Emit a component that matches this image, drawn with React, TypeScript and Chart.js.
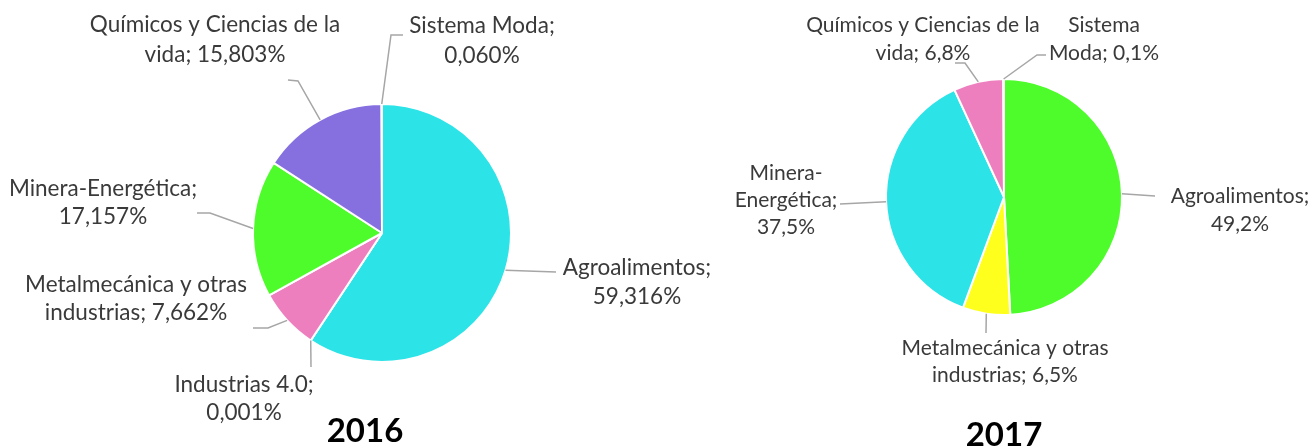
import React, { useEffect, useRef } from "react";
import { Chart, registerables } from "chart.js";

Chart.register(...registerables);

const W = 1314;
const H = 447;

// ---------- data: 2016 ----------
const categories2016 = [
  "Agroalimentos",
  "Industrias 4.0",
  "Metalmecánica y otras industrias",
  "Minera-Energética",
  "Químicos y Ciencias de la vida",
  "Sistema Moda",
];
const values2016 = [59.316, 0.001, 7.662, 17.157, 15.803, 0.06];
const decimals2016 = 3;
const colors2016 = ["#2ce3e8", "#f5d33a", "#ee7fbf", "#4dfc2a", "#8670e0", "#f0a35e"];

// ---------- data: 2017 ----------
const categories2017 = [
  "Agroalimentos",
  "Metalmecánica y otras industrias",
  "Minera-Energética",
  "Químicos y Ciencias de la vida",
  "Sistema Moda",
];
const values2017 = [49.2, 6.5, 37.5, 6.8, 0.1];
const decimals2017 = 1;
const colors2017 = ["#4dfc2a", "#ffff1e", "#2ce3e8", "#ee7fbf", "#8670e0"];

// ---------- label placement (words per line, text centre, baselines, leader path) ----------
type LabelLayout = { lines: number[]; cx: number; baselines: number[]; path: number[][] };

const labelLayout2016: LabelLayout[] = [
  { lines: [1, 1], cx: 637, baselines: [275, 304], path: [[556, 272]] },
  { lines: [2, 1], cx: 244, baselines: [392, 420], path: [[311, 367]] },
  { lines: [3, 2], cx: 136, baselines: [292, 320], path: [[268, 328], [253, 328]] },
  { lines: [2, 1], cx: 103, baselines: [196, 224], path: [[210, 213], [197, 213]] },
  { lines: [5, 2], cx: 215, baselines: [32, 62], path: [[298, 81], [288, 80]] },
  { lines: [2, 1], cx: 482, baselines: [33, 63], path: [[391, 35], [403, 35]] },
];

const labelLayout2017: LabelLayout[] = [
  { lines: [1, 1], cx: 1240, baselines: [203, 231], path: [[1155, 196]] },
  { lines: [3, 2], cx: 1005, baselines: [355, 382], path: [[986, 333]] },
  { lines: [1, 1, 1], cx: 786, baselines: [180, 207, 234], path: [[840, 204]] },
  { lines: [5, 2], cx: 923, baselines: [32, 60], path: [[965, 63], [955, 63]] },
  { lines: [1, 2], cx: 1104, baselines: [32, 60], path: [[1037, 55], [1046, 55]] },
];

type PieSpec = {
  title: string;
  categories: string[];
  values: number[];
  decimals: number;
  colors: string[];
  layout: LabelLayout[];
  cx: number;
  cy: number;
  radius: number;
  fontSize: number;
  titleX: number;
  titleY: number;
};

const specs: PieSpec[] = [
  {
    title: "2016",
    categories: categories2016,
    values: values2016,
    decimals: decimals2016,
    colors: colors2016,
    layout: labelLayout2016,
    cx: 382,
    cy: 233,
    radius: 129,
    fontSize: 22.5,
    titleX: 365,
    titleY: 442,
  },
  {
    title: "2017",
    categories: categories2017,
    values: values2017,
    decimals: decimals2017,
    colors: colors2017,
    layout: labelLayout2017,
    cx: 1004,
    cy: 197,
    radius: 118,
    fontSize: 21,
    titleX: 1004,
    titleY: 446,
  },
];

const FONT_FAMILY = "Lato, 'Open Sans', sans-serif";

function formatValue(v: number, d: number) {
  return v.toFixed(d).replace(".", ",") + "%";
}

function wrapLines(text: string, counts: number[]) {
  const tokens = text.match(/[^\s-]+-?/g) || [];
  const out: string[] = [];
  let k = 0;
  for (const c of counts) {
    let s = "";
    for (let j = 0; j < c && k < tokens.length; j++, k++) {
      const t = tokens[k];
      s += s === "" || s.endsWith("-") ? t : " " + t;
    }
    out.push(s);
  }
  return out;
}

function makeLabelPlugin(spec: PieSpec) {
  return {
    id: "outsideLabels" + spec.title,
    afterDatasetsDraw(chart: any) {
      const ctx: CanvasRenderingContext2D = chart.ctx;
      const meta = chart.getDatasetMeta(0);
      ctx.save();
      meta.data.forEach((arc: any, i: number) => {
        const L = spec.layout[i];
        if (!L) return;
        const p = arc.getProps(["x", "y", "startAngle", "endAngle", "outerRadius"], true);
        const mid = (p.startAngle + p.endAngle) / 2;
        const sx = p.x + Math.cos(mid) * p.outerRadius;
        const sy = p.y + Math.sin(mid) * p.outerRadius;
        ctx.beginPath();
        ctx.moveTo(sx, sy);
        L.path.forEach(([px, py]) => ctx.lineTo(px, py));
        ctx.strokeStyle = "#a6a6a6";
        ctx.lineWidth = 1.5;
        ctx.stroke();

        const text = `${spec.categories[i]}; ${formatValue(spec.values[i], spec.decimals)}`;
        const lines = wrapLines(text, L.lines);
        ctx.font = `${spec.fontSize}px ${FONT_FAMILY}`;
        ctx.fillStyle = "#3a3a3a";
        ctx.textAlign = "center";
        ctx.textBaseline = "alphabetic";
        lines.forEach((ln, j) => ctx.fillText(ln, L.cx, L.baselines[j]));
      });
      ctx.font = `bold 33px ${FONT_FAMILY}`;
      ctx.fillStyle = "#000000";
      ctx.textAlign = "center";
      ctx.textBaseline = "alphabetic";
      ctx.fillText(spec.title, spec.titleX, spec.titleY);
      ctx.restore();
    },
  };
}

function PieCanvas({ spec }: { spec: PieSpec }) {
  const ref = useRef<HTMLCanvasElement>(null);
  useEffect(() => {
    if (!ref.current) return;
    const hw = Math.min(spec.cx, W - spec.cx) - 1;
    const hh = Math.min(spec.cy, H - spec.cy) - 1;
    const chart = new Chart(ref.current, {
      type: "pie",
      data: {
        labels: spec.categories,
        datasets: [
          {
            data: spec.values,
            backgroundColor: spec.colors,
            borderColor: "#ffffff",
            borderWidth: 2,
            radius: spec.radius,
          } as any,
        ],
      },
      options: {
        responsive: false,
        animation: false,
        events: [],
        layout: {
          padding: {
            left: spec.cx - hw,
            right: W - spec.cx - hw,
            top: spec.cy - hh,
            bottom: H - spec.cy - hh,
          },
        },
        plugins: {
          legend: { display: false },
          tooltip: { enabled: false },
          title: { display: false },
        },
      },
      plugins: [makeLabelPlugin(spec)],
    });
    return () => chart.destroy();
  }, [spec]);
  return (
    <canvas
      ref={ref}
      width={W}
      height={H}
      style={{ position: "absolute", left: 0, top: 0, width: W, height: H }}
    />
  );
}

export default function App() {
  return (
    <div
      style={{
        position: "absolute",
        left: 0,
        top: 0,
        width: W,
        height: H,
        background: "#ffffff",
        overflow: "hidden",
      }}
    >
      {specs.map((s) => (
        <PieCanvas key={s.title} spec={s} />
      ))}
    </div>
  );
}
